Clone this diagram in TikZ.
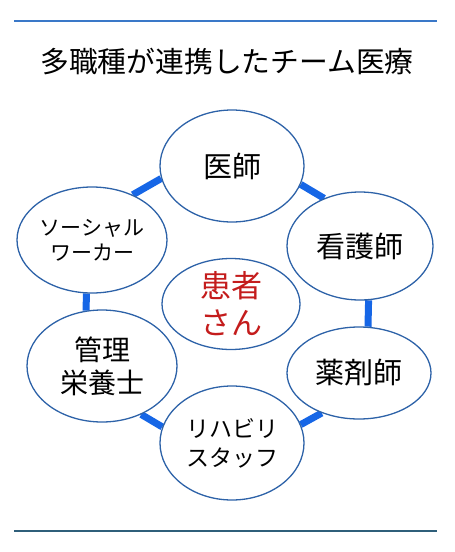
\documentclass[tikz,border=0pt]{standalone}
\usepackage{fontspec}
\setmainfont{Noto Sans CJK JP}
\usetikzlibrary{shapes.geometric,backgrounds}
\definecolor{barblue}{HTML}{1666E6}
\definecolor{edgeblue}{HTML}{2D62A8}
\definecolor{topline}{HTML}{3A78C8}
\definecolor{botline}{HTML}{2F5F7A}
\definecolor{pred}{HTML}{C41C1C}
\tikzset{
  role/.style={ellipse, draw=edgeblue, line width=1.3pt, fill=white, inner sep=0pt, align=center},
  bar/.style={draw=barblue, line width=7pt},
  rule/.style={line width=1.5pt}
}
\begin{document}
\begin{tikzpicture}[x=1pt,y=-1pt]
\useasboundingbox (0,0) rectangle (455,552);
\coordinate (tl) at (14,21); \coordinate (tr) at (437,21);
\coordinate (bl) at (14,531); \coordinate (br) at (437,531);
\draw[rule,topline] (tl) -- (tr);
\draw[rule,botline] (bl) -- (br);
\node[font=\fontsize{28.8}{32}\selectfont] (title) at (227,62) {多職種が連携したチーム医療};

\node[role,minimum width=144pt,minimum height=112pt,font=\fontsize{29}{32}\selectfont] (doc) at (232,166) {医師};
\node[role,minimum width=146pt,minimum height=108pt,font=\fontsize{29}{32}\selectfont] (ns) at (360,246) {看護師};
\node[role,minimum width=150pt,minimum height=106pt,font=\fontsize{21}{25}\selectfont] (sw) at (92,240) {ソーシャル\\ワーカー};
\node[role,minimum width=138pt,minimum height=90pt,text=pred,font=\fontsize{31}{37}\selectfont] (pt) at (231,304) {患者\\さん};
\node[role,minimum width=150pt,minimum height=112pt,font=\fontsize{28}{33}\selectfont] (mgr) at (102,366) {管理\\栄養士};
\node[role,minimum width=144pt,minimum height=92pt,font=\fontsize{29}{32}\selectfont] (ph) at (359,373) {薬剤師};
\node[role,minimum width=144pt,minimum height=114pt,font=\fontsize{23}{29}\selectfont] (reh) at (232,443) {リハビリ\\スタッフ};

\begin{scope}[on background layer]
\draw[bar] (doc.190) -- (sw.48);
\draw[bar] (doc.345) -- (ns.127);
\draw[bar] (ns.-81) -- (ph.79);
\draw[bar] (sw.-96) -- (mgr.106);
\draw[bar] (mgr.-51) -- (reh.167);
\draw[bar] (reh.15) -- (ph.227);
\end{scope}
\end{tikzpicture}
\end{document}
